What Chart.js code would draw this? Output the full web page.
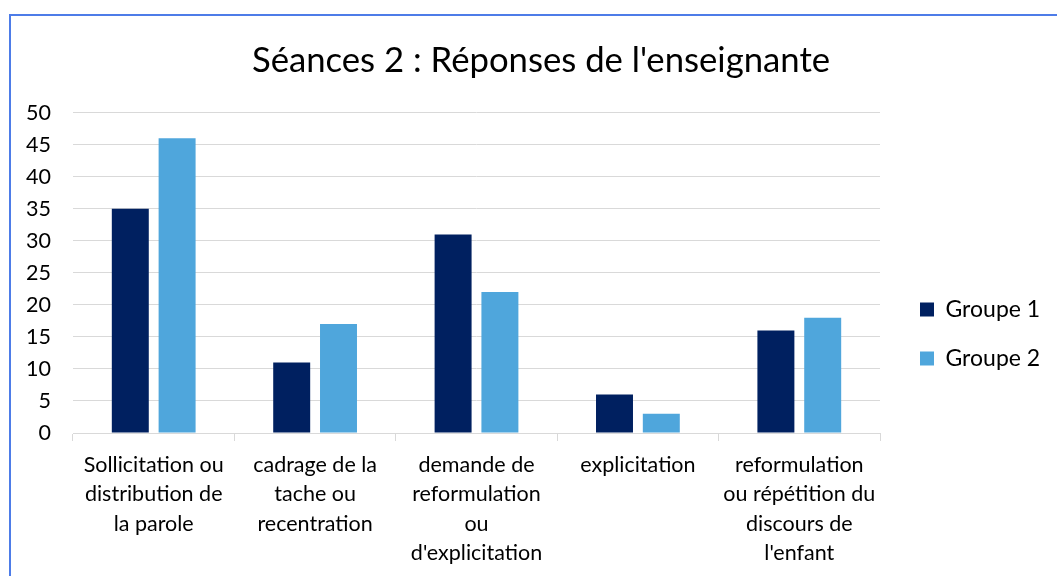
<!DOCTYPE html>
<html>
<head>
<meta charset="utf-8">
<script src="https://cdn.jsdelivr.net/npm/chart.js@4.4.0/dist/chart.umd.min.js"></script>
<style>
  body { margin: 0; background: #fff; }
  #wrap { position: relative; width: 1057px; height: 576px; overflow: hidden; }
  #frame { position: absolute; left: 9px; top: 14px; width: 1100px; height: 600px;
           border-left: 2px solid #4d7ce8; border-top: 2px solid #4d7ce8; }
  canvas { position: absolute; left: 0; top: 0; }
</style>
</head>
<body>
<div id="wrap">
  <div id="frame"></div>
  <canvas id="chart" width="1057" height="576"></canvas>
</div>
<script>
var categories = [
  ["Sollicitation ou", "distribution de", "la parole"],
  ["cadrage de la", "tache ou", "recentration"],
  ["demande de", "reformulation", "ou", "d'explicitation"],
  ["explicitation"],
  ["reformulation", "ou répétition du", "discours de", "l'enfant"]
];
var groupe1 = [35, 11, 31, 6, 16];
var groupe2 = [46, 17, 22, 3, 18];
var yTicks = [0, 5, 10, 15, 20, 25, 30, 35, 40, 45, 50];

var font = "Lato, 'Open Sans', sans-serif";
Chart.defaults.font.family = font;
Chart.defaults.color = "#000";

// keep the legend column at a fixed width so the plot ends where the original does
var legendWidth = {
  id: 'legendWidth',
  beforeUpdate: function(chart) {
    var lg = chart.legend;
    if (lg && !lg._patched) {
      var fit = lg.fit;
      lg.fit = function() { fit.call(this); this.width = 177; };
      lg._patched = true;
    }
  },
  afterLayout: function(chart) {
    // nudge the legend items a bit to the right
    chart.legend.left += 14;
    chart.legend.right += 14;
  }
};

var ctx = document.getElementById("chart");
var myChart = new Chart(ctx, {
  type: 'bar',
  data: {
    labels: categories,
    datasets: [
      { label: 'Groupe 1', data: groupe1, backgroundColor: '#002060',
        categoryPercentage: 0.58, barPercentage: 0.79 },
      { label: 'Groupe 2', data: groupe2, backgroundColor: '#4fa6dc',
        categoryPercentage: 0.58, barPercentage: 0.79 }
    ]
  },
  plugins: [legendWidth],
  options: {
    responsive: false,
    animation: false,
    layout: { padding: { left: 25, right: 0, top: 0, bottom: 0 } },
    scales: {
      y: {
        min: 0, max: 50,
        afterBuildTicks: function(axis) {
          axis.ticks = yTicks.map(function(v) { return { value: v }; });
        },
        afterFit: function(axis) { axis.width = 48; },
        border: { display: false },
        grid: { color: '#d9d9d9', lineWidth: 1, drawTicks: false },
        ticks: { padding: 22, font: { size: 21.5 }, color: '#000' }
      },
      x: {
        afterFit: function(axis) { axis.height = 143; },
        border: { display: true, color: '#d9d9d9' },
        grid: { display: true, drawOnChartArea: false, color: '#d9d9d9', tickLength: 8, offset: true },
        ticks: { padding: 10, font: { size: 21.5, lineHeight: 1.35 }, color: '#000', maxRotation: 0, autoSkip: false }
      }
    },
    plugins: {
      title: {
        display: true,
        text: "Séances 2 : Réponses de l'enseignante",
        font: { size: 34.7, weight: 'normal' },
        color: '#000',
        padding: { top: 40, bottom: 31 }
      },
      legend: {
        position: 'right',
        title: { display: true, text: ' ', font: { size: 15 }, padding: { top: 0, bottom: 74 } },
        labels: { boxWidth: 14, boxHeight: 14, padding: 26, font: { size: 23 }, color: '#000' }
      },
      tooltip: { enabled: false }
    }
  }
});
</script>
</body>
</html>
